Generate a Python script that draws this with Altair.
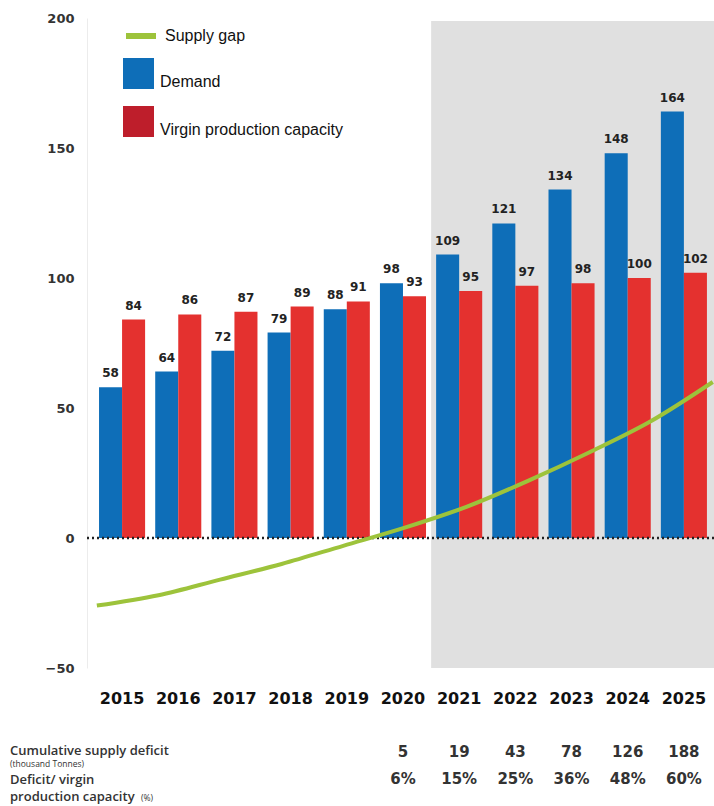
import altair as alt
import pandas as pd

# ---------------- data ----------------
years = ["2015", "2016", "2017", "2018", "2019", "2020", "2021", "2022", "2023", "2024", "2025"]
demand = [58, 64, 72, 79, 88, 98, 109, 121, 134, 148, 164]
capacity = [84, 86, 87, 89, 91, 93, 95, 97, 98, 100, 102]
series_names = ["Demand", "Virgin production capacity"]

gap_years = [2015, 2016, 2017, 2018, 2019, 2020, 2021, 2022, 2023, 2024, 2025]
gap_values = [-26, -22, -16, -10, -3, 4, 12, 22, 33, 45, 60]
gap_name = ["Supply gap"]

deficit_years = ["2020", "2021", "2022", "2023", "2024", "2025"]
cumulative_deficit = ["5", "19", "43", "78", "126", "188"]
deficit_pct = ["6%", "15%", "25%", "36%", "48%", "60%"]

shaded_from = ["2021"]
y_ticks = [-50, 0, 50, 100, 150, 200]

# ---------------- tables ----------------
bars_df = pd.DataFrame({
    "year": years * 2,
    "series": [series_names[0]] * len(years) + [series_names[1]] * len(years),
    "value": demand + capacity,
})
line_df = pd.DataFrame({"year": gap_years, "gap": gap_values, "series": gap_name * len(gap_years)})
deficit_df = pd.DataFrame({"year": deficit_years, "cum": cumulative_deficit, "pct": deficit_pct})
shade_df = pd.DataFrame({"year": shaded_from})
legend_df = pd.DataFrame({"key": series_names})

W, H = 627, 650
BLUE = "#0E6EB8"
RED = "#E4312F"
LEG_RED = "#BE1E2B"
GREEN = "#9DC33B"
NUMFONT = "DejaVu Sans"
TXTFONT = "Open Sans"

x_scale = alt.Scale(domain=years, paddingInner=0.18, paddingOuter=0.17, align=0.63)
xoff_scale = alt.Scale(domain=series_names, paddingInner=0, paddingOuter=0)
y_scale = alt.Scale(domain=[-50, 200], nice=False, zero=False)
color_scale = alt.Scale(domain=series_names, range=[BLUE, RED])

x_enc = alt.X("year:N", scale=x_scale, title=None, sort=years)

shade = alt.Chart(shade_df).mark_rect(color="#E0E0E0", xOffset=-5).encode(
    x=alt.X("year:N", scale=x_scale, title=None, sort=years, bandPosition=0),
    x2=alt.value(W),
    y=alt.value(3),
    y2=alt.value(H),
)

bars = alt.Chart(bars_df).mark_bar().encode(
    x=x_enc,
    xOffset=alt.XOffset("series:N", scale=xoff_scale, sort=series_names),
    y=alt.Y("value:Q", scale=y_scale, title=None, axis=alt.Axis(values=y_ticks)),
    color=alt.Color("series:N", scale=color_scale, legend=None),
)

# legend swatches (the printed legend uses a deeper red than the bars)
legend_keys = alt.Chart(legend_df).mark_square(size=0, filled=True).encode(
    x=alt.value(0),
    y=alt.value(0),
    color=alt.Color(
        "key:N",
        scale=alt.Scale(domain=series_names, range=[BLUE, LEG_RED]),
        legend=alt.Legend(
            orient="none", legendX=36, legendY=40, title=None, padding=0,
            symbolType="square", symbolSize=961, symbolStrokeWidth=0, symbolOpacity=1,
            rowPadding=16, labelFont="Liberation Sans", labelFontSize=16,
            labelColor="#111", labelOffset=6, labelBaseline="top", labelLimit=400,
        ),
    ),
)

bar_labels = alt.Chart(bars_df).mark_text(
    font=NUMFONT, fontWeight="bold", fontSize=12, color="#222", baseline="bottom", dy=-7
).encode(
    x=x_enc,
    xOffset=alt.XOffset("series:N", scale=xoff_scale, sort=series_names),
    y=alt.Y("value:Q", scale=y_scale),
    text=alt.Text("value:Q"),
)

zero_rule = alt.Chart(pd.DataFrame({"v": [0]})).mark_rule(
    strokeDash=[2, 3], strokeWidth=2.5, color="#222"
).encode(y=alt.Y("v:Q", scale=y_scale))

cum_text = alt.Chart(deficit_df).mark_text(
    font=NUMFONT, fontWeight="bold", fontSize=15, color="#333", baseline="middle"
).encode(x=x_enc, y=alt.value(734), text="cum:N")

pct_text = alt.Chart(deficit_df).mark_text(
    font=NUMFONT, fontWeight="bold", fontSize=15, color="#333", baseline="middle"
).encode(x=x_enc, y=alt.value(761), text="pct:N")


def row_label(txt, x, y, size, weight):
    return alt.Chart(pd.DataFrame({"t": [txt]})).mark_text(
        font=TXTFONT, fontWeight=weight, fontSize=size, color="#333",
        align="left", baseline="middle",
    ).encode(x=alt.value(x), y=alt.value(y), text="t:N")


labels = [
    row_label("Cumulative supply deficit", -77, 733, 13, 600),
    row_label("(thousand Tonnes)", -77, 746, 8.5, 500),
    row_label("Deficit/ virgin", -77, 762, 13, 600),
    row_label("production capacity", -77, 779, 13, 600),
    row_label("(%)", 54, 780, 8.5, 500),
]

inner = alt.layer(shade, bars, bar_labels, zero_rule, cum_text, pct_text, legend_keys, *labels).resolve_scale(
    color="independent"
)

line = alt.Chart(line_df).mark_line(interpolate="monotone", strokeWidth=4).encode(
    x=alt.X("year:Q", scale=alt.Scale(domain=[2014.84, 2025.02], nice=False, zero=False), axis=None),
    y=alt.Y("gap:Q", scale=y_scale),
    stroke=alt.Stroke(
        "series:N",
        scale=alt.Scale(domain=gap_name, range=[GREEN]),
        legend=alt.Legend(
            orient="none", legendX=36, legendY=0, title=None, padding=0,
            symbolType="stroke", symbolSize=900, symbolStrokeWidth=6,
            labelFont="Liberation Sans", labelFontSize=16, labelColor="#111", labelOffset=6,
        ),
    ),
)

chart = alt.layer(inner, line).resolve_scale(x="independent").properties(
    width=W,
    height=H,
    autosize=alt.AutoSizeParams(type="none"),
    padding={"left": 87, "top": 18, "right": 0, "bottom": 138},
).configure_view(stroke=None).configure_axisX(
    labelFont=NUMFONT, labelFontWeight="bold", labelFontSize=16, labelColor="#111",
    ticks=False, domain=False, labelPadding=22, labelAngle=0, grid=False,
).configure_axisY(
    labelFont=NUMFONT, labelFontWeight="bold", labelFontSize=13, labelColor="#333",
    ticks=False, domain=True, domainColor="#ececec", labelPadding=13, grid=False,
)

chart.save("out.html", embed_options={"renderer": "svg", "actions": False})
